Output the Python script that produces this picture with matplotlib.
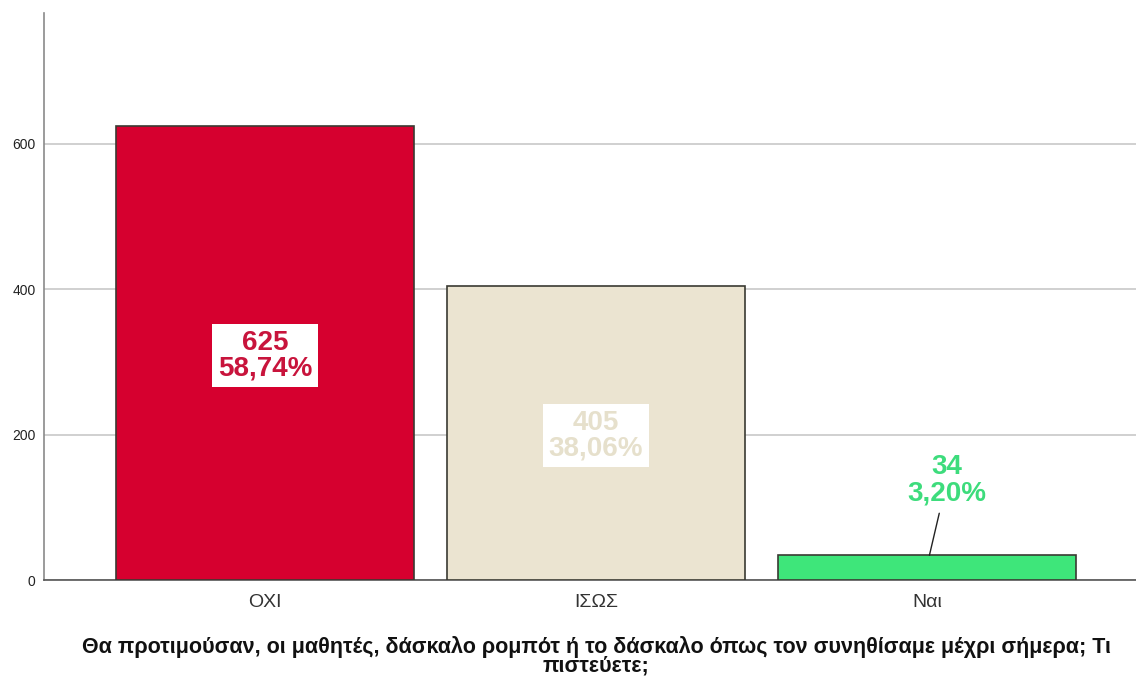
import matplotlib.pyplot as plt

categories = ["ΟΧΙ", "ΙΣΩΣ", "Ναι"]
counts = [625, 405, 34]
percents = [58.74, 38.06, 3.20]
bar_colors = ["#d6002f", "#ebe4d1", "#3ee67a"]
label_colors = ["#c8143c", "#e6e0cc", "#3ddc7c"]
y_ticks = [0, 200, 400, 600]
title = ("Θα προτιμούσαν, οι μαθητές, δάσκαλο ρομπότ ή το δάσκαλο όπως τον "
         "συνηθίσαμε μέχρι σήμερα; Τι\nπιστεύετε;")

plt.rcParams["font.family"] = ["Liberation Sans", "DejaVu Sans"]

fig = plt.figure(figsize=(11.36, 6.8), dpi=100)
ax = fig.add_axes([0.0387, 0.147, 0.9613, 0.834])

x = list(range(len(categories)))
bars = ax.bar(x, counts, width=0.9, color=bar_colors, edgecolor="#3a3a32",
              linewidth=1.2, zorder=3)

ax.set_xlim(-0.6675, 2.631)
ax.set_ylim(0, 780)
ax.set_yticks(y_ticks)
ax.set_yticklabels([str(v) for v in y_ticks], fontsize=10, color="#222222")
ax.set_xticks(x)
ax.set_xticklabels(categories, fontsize=14, color="#333333")
ax.tick_params(axis="both", length=0, pad=10)
ax.tick_params(axis="y", pad=6)

ax.grid(axis="y", color="#c8c8c8", linewidth=1.2, zorder=0)
for side in ("top", "right"):
    ax.spines[side].set_visible(False)
ax.spines["left"].set_color("#8a8a8a")
ax.spines["bottom"].set_color("#555555")
ax.spines["left"].set_linewidth(1.2)
ax.spines["bottom"].set_linewidth(1.2)

# value / percentage labels: boxed in the middle of the tall bars,
# above the short bar with a leader line
for i, (bar, n, p) in enumerate(zip(bars, counts, percents)):
    text = f"{n}\n{p:.2f}%".replace(".", ",")
    cx = bar.get_x() + bar.get_width() / 2
    if n > 100:
        ax.text(cx, n / 2 - 4, text, ha="center", va="center", fontsize=20,
                fontweight="bold", color=label_colors[i], linespacing=1.0,
                zorder=5,
                bbox=dict(boxstyle="square,pad=0.2", fc="white", ec="none"))
    else:
        ax.annotate(text, xy=(cx + 0.007, n), xytext=(cx + 0.06, n + 103),
                    ha="center", va="center", fontsize=20, fontweight="bold",
                    color=label_colors[i], linespacing=1.0, zorder=5,
                    arrowprops=dict(arrowstyle="-", color="#222222", lw=1.0,
                                    shrinkA=3, shrinkB=0))

fig.text(0.525, 0.035, title, ha="center", va="center", fontsize=15.5,
         fontweight="bold", color="#111111", linespacing=0.8)

fig.savefig("out.png", dpi=100)
